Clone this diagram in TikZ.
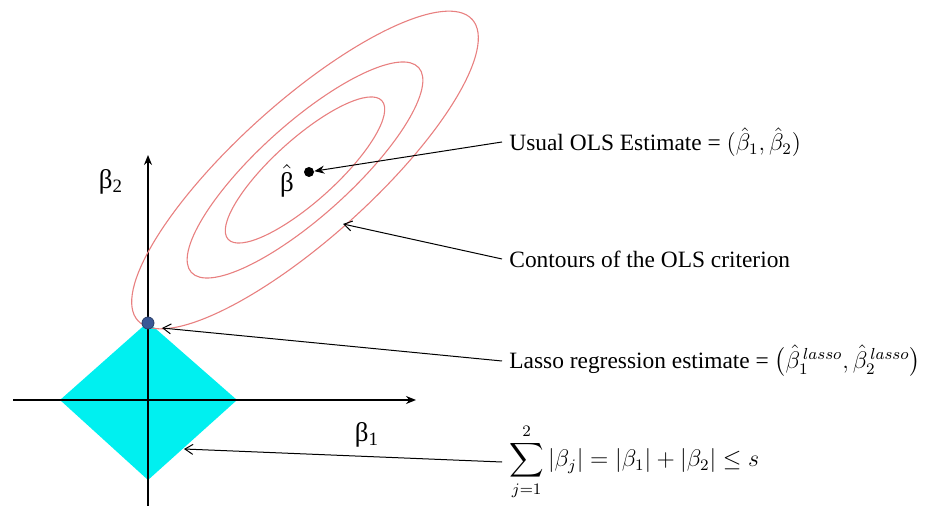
\documentclass[tikz,border=0pt]{standalone}
\usepackage{amsmath}
\usepackage{fontspec}
\setmainfont{Liberation Serif}
\usetikzlibrary{arrows.meta}
\definecolor{contourred}{RGB}{232,128,128}
\definecolor{lassocyan}{RGB}{0,240,240}
\definecolor{lassoblue}{RGB}{58,88,150}
\begin{document}
\begin{tikzpicture}[x=0.5pt,y=-0.5pt,
  axis/.style={line width=0.9pt,-{Stealth[length=5pt,width=4pt]}},
  contour/.style={draw=contourred,line width=0.55pt},
  pointer/.style={line width=0.5pt,-{Straight Barb[length=4pt,width=5pt]}},
  note/.style={anchor=west,inner sep=3.5pt,font=\fontsize{11.7}{14}\selectfont},
  axlabel/.style={inner sep=0pt,font=\fontsize{13.5}{15}\selectfont}]
\useasboundingbox (0,0) rectangle (929,506);
% constraint region and axes
\fill[lassocyan] (60,400) -- (148,322) -- (237,400) -- (148,480) -- cycle;
\draw[axis] (148,506) -- (148,155);
\draw[axis] (13,400) -- (416,400);
\node[axlabel] (b2) at (111,182) {β\textsubscript{2}};
\node[axlabel] (b1) at (367,435) {β\textsubscript{1}};
% OLS contours
\foreach \s in {1,0.68,0.46}
  \draw[contour,rotate around={42:(305,170)}] (305,170) ellipse ({225*\s} and {68*\s});
\node[circle,fill=black,inner sep=0pt,minimum size=5pt] (bhat) at (309,172) {};
\node[inner sep=0pt,font=\fontsize{13.5}{15}\selectfont] (bhatlbl) at (287,181) {$\hat{\text{β}}$};
\node[circle,fill=lassoblue,draw=lassoblue!70!black,inner sep=0pt,minimum size=6pt] (lasso) at (148,323) {};
\coordinate (cont) at (343,224);
\coordinate (diam) at (184,449);
\coordinate (lassotip) at (162,328);
% annotations
\node[note] (ols) at (502,142) {Usual OLS Estimate = $(\hat{\beta}_1, \hat{\beta}_2)$};
\node[note] (crit) at (502,259) {Contours of the OLS criterion};
\node[note] (lest) at (502,361) {Lasso regression estimate = $\bigl(\hat{\beta}_1^{\,lasso}, \hat{\beta}_2^{\,lasso}\bigr)$};
\node[note] (sum) at (502,462) {$\displaystyle\sum_{j=1}^{2}|\beta_j| = |\beta_1| + |\beta_2| \le s$};
\draw[line width=0.5pt,-{Stealth[length=5pt,width=4pt]}] (ols.west) -- (bhat);
\draw[pointer] (crit.west) -- (cont);
\draw[pointer] (lest.west) -- (lassotip);
\draw[pointer] (sum.west) -- (diam);
\end{tikzpicture}
\end{document}
